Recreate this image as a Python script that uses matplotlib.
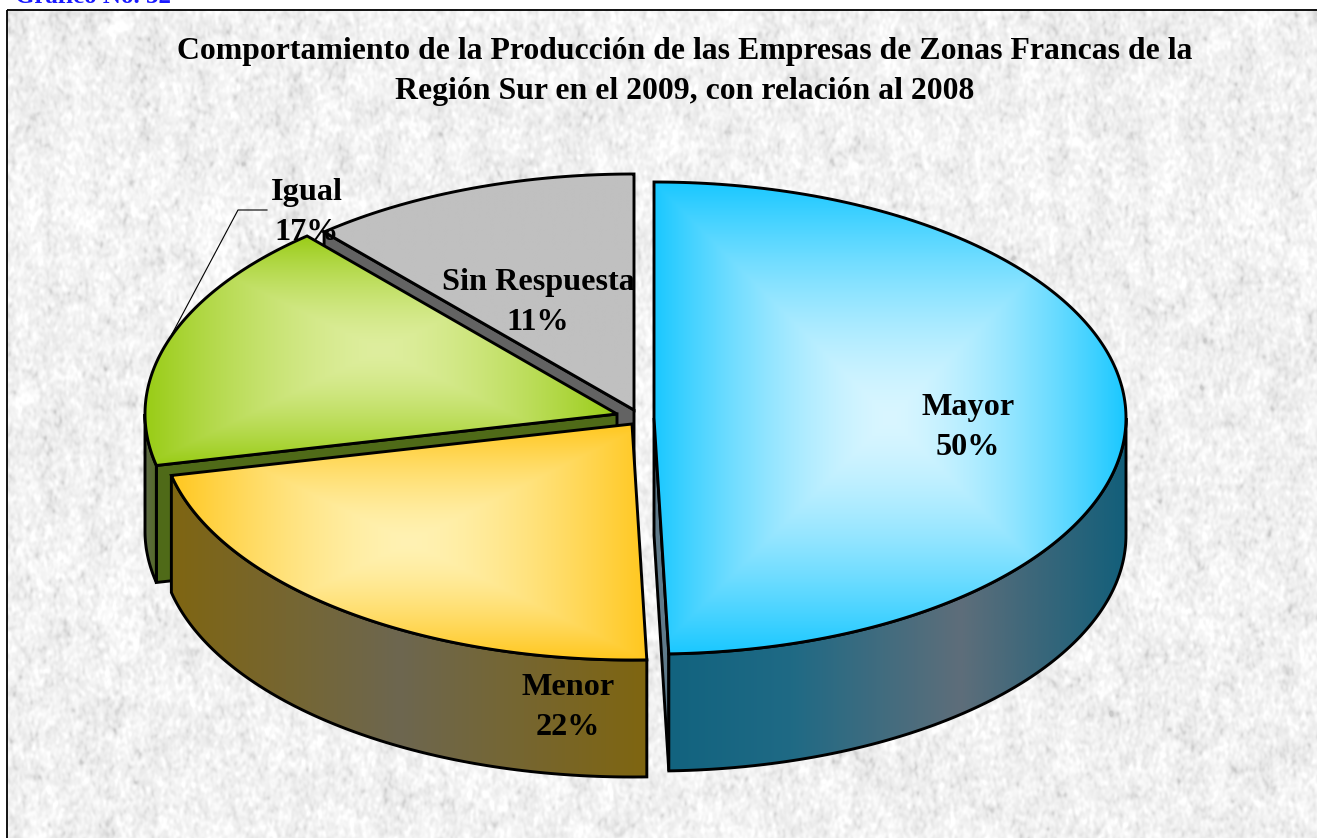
import numpy as np
import matplotlib
matplotlib.use('Agg')
import matplotlib.pyplot as plt
from matplotlib.patches import Polygon, Rectangle

W, H = 1317, 838

# slices clockwise from 12 o'clock, shares
labels = ['Mayor', 'Menor', 'Igual', 'Sin Respuesta']
values = [49.5, 22.0, 17.1, 11.4]
title_lines = ['Comportamiento de la Producción de las Empresas de Zonas Francas de la',
               'Región Sur en el 2009, con relación al 2008']

# pie shape, in pixels
RX, RY, DEPTH = 472, 236, 117
centers = [(654, 418), (632, 424), (617, 414), (634, 410)]
edge_cols = ['#1ac8ff', '#ffc71e', '#99cc16', '#c0c0c0']
mid_cols = ['#d9f6ff', '#fff2b3', '#deee9e', '#c0c0c0']
wall_stops = [
    [(670, '#12637f'), (790, '#1f6a85'), (960, '#5e6e7a'), (1126, '#125f7a')],
    [(172, '#7f6512'), (400, '#6d6750'), (648, '#7f6510')],
    [(145, '#5f6b48'), (160, '#4f6a18')],
    [(325, '#636363'), (634, '#636363')],
]
cut_cols = ['#5f7a8a', None, '#4f6a18', '#636363']
label_pos = [(968, 407), (568, 687), (307, 192), (538, 282)]

plt.rcParams['font.family'] = ['Liberation Serif', 'DejaVu Serif']


def hex_rgb(c):
    return np.array(matplotlib.colors.to_rgb(c))


def rim(c, t):
    t = np.radians(t)
    return np.column_stack([c[0] + RX * np.sin(t), c[1] - RY * np.cos(t)])


def blur(a, sx, sy):
    fy = np.fft.fftfreq(a.shape[0])[:, None]
    fx = np.fft.rfftfreq(a.shape[1])[None, :]
    g = np.exp(-2 * np.pi ** 2 * ((fx * sx) ** 2 + (fy * sy) ** 2))
    return np.fft.irfft2(np.fft.rfft2(a) * g, s=a.shape)


def paper(h, w):
    # granite paper of the chart area, hashed so no two runs differ
    y, x = np.mgrid[0:h, 0:w]
    n = np.modf(np.abs(np.sin(x * 12.9898 + y * 78.233)) * 43758.5453)[0]
    fine = blur(n, 1.3, 1.9)
    big = blur(n, 7, 9)
    z = fine / fine.std() + 0.3 * big / big.std()
    z = z - z.mean()
    g = 241 + 5.5 * z - 1.5 * np.clip(-z - 1, 0, None) ** 2
    return np.clip(g, 200, 255) / 255


def fill_image(ax, poly, rgb, bbox, z):
    im = ax.imshow(rgb, extent=(bbox[0], bbox[1], bbox[3], bbox[2]), aspect='auto',
                   interpolation='bilinear', zorder=z)
    im.set_clip_path(poly)


def top_face(ax, pts, edge, mid, z):
    x0, y0 = pts.min(axis=0)
    x1, y1 = pts.max(axis=0)
    yy, xx = np.mgrid[y0:y1:200j, x0:x1:300j]
    d = np.maximum(np.abs(xx - (x0 + x1) / 2) / ((x1 - x0) / 2),
                   np.abs(yy - (y0 + y1) / 2) / ((y1 - y0) / 2))
    d = d ** 1.5
    rgb = hex_rgb(mid) + d[..., None] * (hex_rgb(edge) - hex_rgb(mid))
    poly = Polygon(pts, closed=True, fc='none', ec='black', lw=2.1, joinstyle='miter', zorder=z + 0.1)
    ax.add_patch(poly)
    fill_image(ax, poly, rgb, (x0, x1, y0, y1), z)


def wall(ax, pts, stops, z):
    x0, y0 = pts.min(axis=0)
    x1, y1 = pts.max(axis=0)
    xs = np.linspace(x0, x1, 300)
    stop_x = [s[0] for s in stops]
    cols = np.array([hex_rgb(s[1]) for s in stops])
    rgb = np.stack([np.interp(xs, stop_x, cols[:, i]) for i in range(3)], axis=-1)[None, :, :]
    poly = Polygon(pts, closed=True, fc='none', ec='black', lw=2.1, joinstyle='miter', zorder=z + 0.1)
    ax.add_patch(poly)
    fill_image(ax, poly, rgb, (x0, x1, y0, y1), z)


def cut(ax, c, t, color, z):
    a = np.array(c, dtype=float)
    e = rim(c, t)[0]
    drop = np.array([0, DEPTH])
    ax.add_patch(Polygon([a, e, e + drop, a + drop], closed=True, fc=color, ec='black',
                         lw=2.1, joinstyle='miter', zorder=z))


fig = plt.figure(figsize=(W / 100, H / 100), dpi=100)
ax = fig.add_axes([0, 0, 1, 1])
ax.set_xlim(0, W)
ax.set_ylim(H, 0)
ax.axis('off')
ax.set_autoscale_on(False)

tex = paper(H - 10, W - 7)
ax.imshow(tex, cmap='gray', vmin=0, vmax=1, extent=(7, W, H, 10), aspect='auto', zorder=0)
ax.add_patch(Rectangle((7, 10), W, H, fc='none', ec='black', lw=1.3, zorder=1))

ax.text(15, 3, 'Gráfico No. 32', color='#1a1aff', fontsize=18, fontweight='bold', ha='left', va='baseline', zorder=2)

for i, line in enumerate(title_lines):
    ax.text(685, 51 + 40 * i, line, fontsize=22.9, fontweight='bold', ha='center', va='center', zorder=50)

# back to front: Sin Respuesta, Igual, Mayor, Menor
angles = np.cumsum([0] + values) / sum(values) * 360
for n, i in enumerate([3, 2, 0, 1]):
    z = 10 + n * 5
    c = centers[i]
    t1, t2 = angles[i], angles[i + 1]
    # side faces: a cut shows only where the slice lies above it
    if cut_cols[i]:
        cut(ax, c, t2 if t2 < 180 else t1, cut_cols[i], z)
    lo, hi = max(t1, 90), min(t2, 270)
    if lo < hi:
        arc = rim(c, np.linspace(lo, hi, 120))
        wall(ax, np.vstack([arc, arc[::-1] + [0, DEPTH]]), wall_stops[i], z + 1)
    arc = rim(c, np.linspace(t1, t2, 200))
    top_face(ax, np.vstack([c, arc]), edge_cols[i], mid_cols[i], z + 2)

for name, v, (x, y) in zip(labels, values, label_pos):
    ax.text(x, y, name, fontsize=23.2, fontweight='bold', ha='center', va='center', zorder=60)
    ax.text(x, y + 40, f'{round(v)}%', fontsize=23.2, fontweight='bold', ha='center', va='center', zorder=60)

# leader for Igual
ax.plot([267, 238, 172], [210, 210, 334], color='black', lw=0.8, zorder=9)

fig.savefig('out.png', dpi=100)
